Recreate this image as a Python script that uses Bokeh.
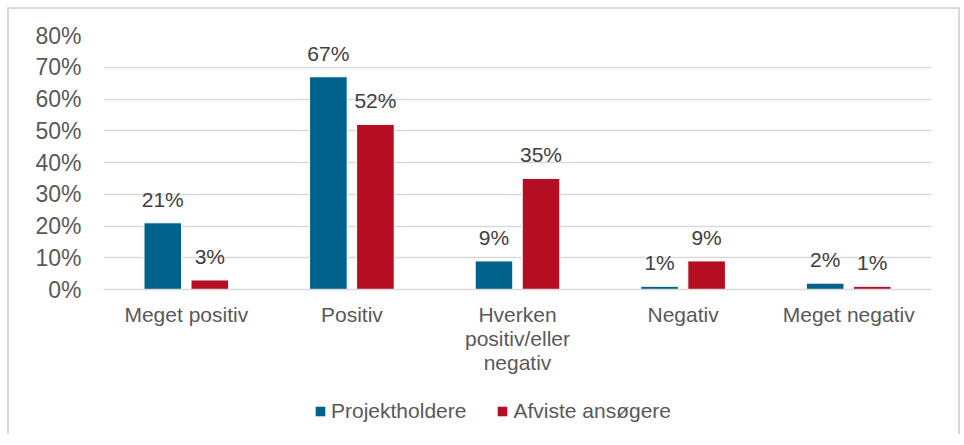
from bokeh.plotting import figure
from bokeh.layouts import column
from bokeh.core.properties import value
from bokeh.models import (ColumnDataSource, FactorRange, Range1d, FixedTicker,
                          NumeralTickFormatter, LabelSet, Legend, LegendItem)
from bokeh.transform import dodge
from bokeh.embed import file_html
from bokeh.resources import INLINE

categories = ["Meget positiv", "Positiv", "Hverken\npositiv/eller\nnegativ", "Negativ", "Meget negativ"]
projektholdere = [21, 67, 9, 1, 2]
afviste = [3, 52, 35, 9, 1]
y_ticks = [0, 10, 20, 30, 40, 50, 60, 70, 80]
series_names = ["Projektholdere", "Afviste ansøgere"]

BLUE = "#00618A"
RED = "#B50E22"
FONT = "Liberation Sans"
FS = "21px"

src = ColumnDataSource(data=dict(
    cat=categories,
    p=[v / 100 for v in projektholdere],
    a=[v / 100 for v in afviste],
    pl=[f"{v}%" for v in projektholdere],
    al=[f"{v}%" for v in afviste],
))

p = figure(x_range=FactorRange(*categories), y_range=Range1d(0, 0.8),
           width=949, height=382, output_backend="svg", toolbar_location=None,
           min_border_left=94, min_border_right=27, min_border_top=26, min_border_bottom=102)
p.outline_line_color = None
p.background_fill_color = "white"
p.border_fill_color = "white"

off = 0.142
w = 0.227
rb = p.vbar(x=dodge("cat", -off, range=p.x_range), top="p", width=w, source=src,
            fill_color=BLUE, line_color="white", line_width=1)
rr = p.vbar(x=dodge("cat", off, range=p.x_range), top="a", width=w, source=src,
            fill_color=RED, line_color="white", line_width=1)

for col, lab, o in (("p", "pl", -off), ("a", "al", off)):
    ls = LabelSet(x=dodge("cat", o, range=p.x_range), y=col, text=lab, source=src,
                  text_align="center", text_baseline="alphabetic", y_offset=16,
                  text_font=value(FONT), text_font_size=value(FS), text_color="#404040")
    p.add_layout(ls)

p.xgrid.grid_line_color = None
p.ygrid.grid_line_color = "#d9d9d9"
p.ygrid.grid_line_width = 1.5

p.yaxis.ticker = FixedTicker(ticks=[t / 100 for t in y_ticks])
p.yaxis.formatter = NumeralTickFormatter(format="0%")
p.yaxis.axis_line_color = None
p.yaxis.major_tick_line_color = None
p.yaxis.minor_tick_line_color = None
p.yaxis.major_tick_out = 0
p.yaxis.minor_tick_out = 0
p.yaxis.major_label_standoff = 22
p.yaxis.major_label_text_font = FONT
p.yaxis.major_label_text_font_size = "23px"
p.yaxis.major_label_text_color = "#595959"

p.xaxis.axis_line_color = "#d9d9d9"
p.xaxis.axis_line_width = 1.5
p.xaxis.major_tick_line_color = None
p.xaxis.minor_tick_line_color = None
p.xaxis.major_tick_out = 0
p.xaxis.minor_tick_out = 0
p.xaxis.major_label_standoff = 13
p.xaxis.major_label_text_font = FONT
p.xaxis.major_label_text_font_size = FS
p.xaxis.major_label_text_line_height = 1.05
p.xaxis.major_label_text_color = "#595959"

# Legend strip below the chart (hidden proxy renderers carry the series styles)
q = figure(width=949, height=43, output_backend="svg", toolbar_location=None,
           x_range=Range1d(0, 1), y_range=Range1d(0, 1),
           x_axis_location=None, y_axis_location=None, min_border=0)
q.grid.visible = False
q.outline_line_color = None
q.border_fill_color = "white"
lb = q.vbar(x="p", top="p", width=0.1, source=src, fill_color=BLUE, line_color=None, visible=False)
lr = q.vbar(x="a", top="a", width=0.1, source=src, fill_color=RED, line_color=None, visible=False)
legend = Legend(items=[LegendItem(label=series_names[0], renderers=[lb]),
                       LegendItem(label=series_names[1], renderers=[lr])],
                orientation="horizontal", location=(211, 11),
                glyph_width=12, glyph_height=12, label_standoff=5, spacing=30,
                label_text_font=FONT, label_text_font_size=FS, label_text_color="#595959",
                border_line_color=None, background_fill_alpha=0, margin=0, padding=0,
                label_height=21)
q.add_layout(legend, "center")

layout = column(p, q, spacing=0, margin=(7, 0, 0, 7),
                styles={"border-left": "2px solid #d9d9d9",
                        "border-top": "2px solid #d9d9d9", "border-right": "2px solid #d9d9d9"})

open("out.html", "w").write(file_html(layout, INLINE))
